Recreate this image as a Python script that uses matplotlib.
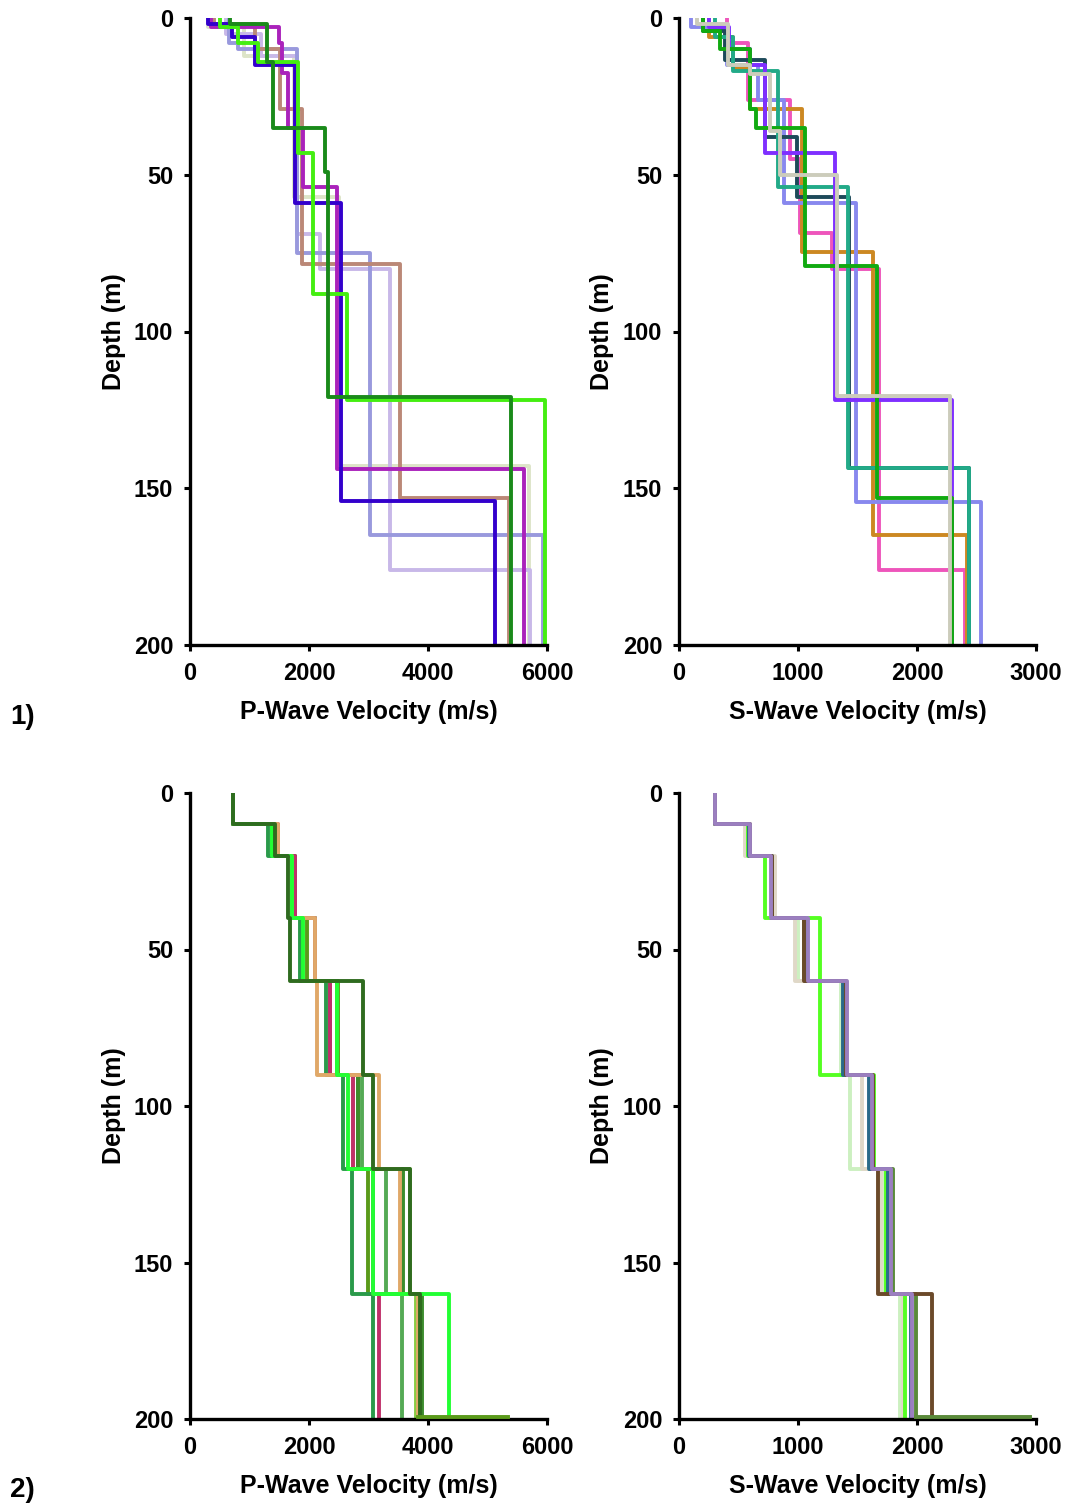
import matplotlib
matplotlib.use("Agg")
import matplotlib.pyplot as plt
import numpy as np

plt.rcParams['font.family'] = ['Liberation Sans', 'DejaVu Sans']
plt.rcParams['font.weight'] = 'bold'

# ---------------- data: set 1 (layer velocities, layer bottom depths) ----------------
p1_colors = ['#dde4c8', '#c8b8e8', '#9999dd', '#bb8877', '#aa22bb', '#3300cc', '#44ee11', '#1a8a1a']
p1_vel = [
    [300, 900, 1750, 2500, 5700],
    [600, 1200, 1790, 2180, 3360, 5710],
    [650, 800, 1800, 3020, 5930],
    [400, 1100, 1510, 1880, 3530, 5360],
    [350, 1500, 1550, 1650, 1900, 2470, 5610],
    [300, 700, 1100, 1760, 2540, 5120],
    [500, 800, 1150, 1810, 2070, 2640, 5960],
    [670, 1300, 1400, 2270, 2320, 5400],
]
p1_dep = [
    [3, 12, 57, 143, 200],
    [5, 12, 69, 80, 176, 200],
    [8, 10, 75, 165, 200],
    [2, 10, 29, 78.5, 153, 200],
    [3, 8, 17.5, 35, 54, 144, 200],
    [2, 6, 15, 59, 154, 200],
    [3, 8, 14, 43, 88, 122, 200],
    [2, 14, 35, 49, 121, 200],
]

s1_colors = ['#ee55bb', '#cc8822', '#8888ee', '#1d4a5a', '#22aa88', '#7f2fff', '#11aa11', '#ccccbb']
s1_vel = [
    [400, 580, 930, 1020, 1285, 1680, 2400],
    [250, 450, 600, 1030, 1630, 2420],
    [100, 400, 660, 880, 1490, 2540],
    [200, 390, 720, 990, 1430, 2440],
    [300, 450, 830, 1420, 2436],
    [250, 420, 600, 725, 1310, 2293],
    [200, 345, 600, 650, 1060, 1660, 2290],
    [150, 410, 600, 764, 848, 1330, 2276],
]
s1_dep = [
    [8, 26, 45, 68.6, 80, 176, 200],
    [6, 16, 29, 74.6, 165, 200],
    [3, 15, 26, 59, 154.4, 200],
    [4, 13.4, 38, 57, 143.5, 200],
    [6, 17, 54, 143.5, 200],
    [3, 10, 15, 43, 122, 200],
    [4, 10, 29, 35, 79, 153, 200],
    [2, 15, 18, 36, 50, 120.5, 200],
]

# ---------------- data: set 2 (common layer boundaries) ----------------
layer_dep2 = [10, 20, 40, 60, 90, 120, 160, 200]

p2_colors = ['#5a9a1a', '#88cc44', '#3c8c2c', '#55aa55', '#2a9a4a', '#c0306a', '#e0a868', '#22ff33', '#2f6b1f']
p2_vel = [
    [720, 1430, 1714, 1966, 2486, 2822, 2990, 3830],
    [720, 1430, 1764, 2100, 2470, 2738, 3696, 3800],
    [720, 1430, 1714, 2100, 2352, 2822, 3578, 3900],
    [720, 1378, 1764, 2100, 2470, 2890, 3293, 3562],
    [720, 1310, 1764, 1848, 2285, 2570, 2722, 3074],
    [720, 1478, 1764, 2100, 2352, 2738, 3074, 3175],
    [720, 1480, 1714, 2100, 2134, 3175, 3528, 3830],
    [720, 1378, 1714, 1898, 2470, 2654, 3074, 4351],
    [720, 1430, 1650, 1680, 2910, 3074, 3696, 3870],
]
p2_halfspace = 5340   # first (olive) model continues along 200 m

s2_colors = ['#5a8a3a', '#ccf0c0', '#e0d8c8', '#55ff22', '#2a6a8a', '#6b4a2a', '#9b7fc0']
s2_vel = [
    [300, 590, 780, 1050, 1390, 1610, 1800, 1990],
    [300, 570, 780, 1000, 1360, 1436, 1720, 1856],
    [300, 554, 806, 974, 1400, 1537, 1700, 1880],
    [300, 580, 722, 1184, 1184, 1640, 1740, 1900],
    [300, 590, 780, 1060, 1380, 1600, 1760, 1950],
    [300, 596, 780, 1050, 1400, 1630, 1672, 2125],
    [300, 600, 770, 1085, 1411, 1620, 1780, 1960],
]
s2_halfspace = 2950   # first model continues along 200 m


def profile(vel, dep):
    tops = np.concatenate([[0], dep[:-1]])
    x = np.repeat(vel, 2)
    y = np.column_stack([tops, dep]).ravel()
    return x, y


def style(ax, xmax, xticks, xlabel):
    ax.set_xlim(0, xmax)
    ax.set_ylim(200, 0)
    ax.set_xticks(xticks)
    ax.set_yticks([0, 50, 100, 150, 200])
    for s in ['top', 'right']:
        ax.spines[s].set_visible(False)
    for s in ['left', 'bottom']:
        ax.spines[s].set_linewidth(2.4)
    ax.tick_params(direction='out', length=4, width=2.2, labelsize=17, pad=8)
    for lab in ax.get_xticklabels() + ax.get_yticklabels():
        lab.set_fontweight('bold')
    ax.set_xlabel(xlabel, fontsize=18, fontweight='bold', labelpad=11)
    ax.set_ylabel('Depth (m)', fontsize=18, fontweight='bold', labelpad=6)


fig = plt.figure(figsize=(10.7, 15.1), dpi=100)
W, H = 1070.0, 1510.0
ax1 = fig.add_axes([190 / W, 1 - 645 / H, 357 / W, 627 / H])
ax2 = fig.add_axes([679 / W, 1 - 645 / H, 357 / W, 627 / H])
ax3 = fig.add_axes([190 / W, 1 - 1419 / H, 357 / W, 626 / H])
ax4 = fig.add_axes([679 / W, 1 - 1419 / H, 357 / W, 626 / H])

lw = 2.8
for c, v, d in zip(p1_colors, p1_vel, p1_dep):
    x, y = profile(v, d)
    ax1.plot(x, y, color=c, lw=lw)
for c, v, d in zip(s1_colors, s1_vel, s1_dep):
    x, y = profile(v, d)
    ax2.plot(x, y, color=c, lw=lw)

for ax, colors, vels, half in [(ax3, p2_colors, p2_vel, p2_halfspace),
                               (ax4, s2_colors, s2_vel, s2_halfspace)]:
    for c, v in zip(colors, vels):
        x, y = profile(v, layer_dep2)
        ax.plot(x, y, color=c, lw=lw)
    # half-space segment of the first model, drawn over the axis line
    ax.plot([vels[0][-1], half], [199.4, 199.4], color=colors[0], lw=lw,
            zorder=3, clip_on=False)

style(ax1, 6000, [0, 2000, 4000, 6000], 'P-Wave Velocity (m/s)')
style(ax2, 3000, [0, 1000, 2000, 3000], 'S-Wave Velocity (m/s)')
style(ax3, 6000, [0, 2000, 4000, 6000], 'P-Wave Velocity (m/s)')
style(ax4, 3000, [0, 1000, 2000, 3000], 'S-Wave Velocity (m/s)')

fig.text(10 / W, 1 - 717 / H, '1)', fontsize=20, fontweight='bold', va='center')
fig.text(10 / W, 1 - 1490 / H, '2)', fontsize=20, fontweight='bold', va='center')

fig.savefig('out.png', dpi=100)
